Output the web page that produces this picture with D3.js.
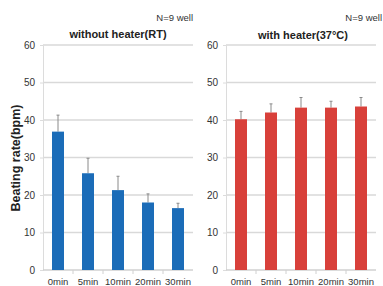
<!DOCTYPE html>
<html><head><meta charset="utf-8">
<script src="https://cdn.jsdelivr.net/npm/d3@7"></script>
<style>body{margin:0;background:#fff}svg{display:block;font-family:"Liberation Sans",Arial,sans-serif}</style>
</head><body><svg id="c" width="383" height="286"></svg>
<script>
const categories = ["0min","5min","10min","20min","30min"];
const yTicks = [0,10,20,30,40,50,60];
const rtValues = [36.9, 25.8, 21.3, 18.0, 16.5];
const rtErrors = [4.4, 4.0, 3.7, 2.3, 1.3];
const heatValues = [40.2, 42.0, 43.3, 43.3, 43.6];
const heatErrors = [2.1, 2.3, 2.7, 1.7, 2.4];
const titles = ["without heater(RT)", "with heater(37°C)"];
const note = "N=9 well";

const svg = d3.select("#c");
const y = d3.scaleLinear().domain([0,60]).range([270,45]);

// y-axis title
svg.append("text").attr("transform","translate(20,158) rotate(-90)")
  .attr("text-anchor","middle").attr("font-size",12.5).attr("font-weight","bold")
  .attr("fill","#222").text("Beating rate(bpm)");

const panels = [
  {x0:43, x1:193, vals:rtValues, errs:rtErrors, color:"#1b6cb8", title:titles[0], titleX:118, titleY:37.5, noteX:193, noteY:21},
  {x0:226, x1:376, vals:heatValues, errs:heatErrors, color:"#d8403a", title:titles[1], titleX:303, titleY:38.5, noteX:382, noteY:21}
];

panels.forEach(p => {
  const g = svg.append("g");
  const x = d3.scaleBand().domain(categories).range([p.x0, p.x1]).paddingInner(0.6).paddingOuter(0.3);
  const xb = d3.scaleBand().domain(categories).range([p.x0, p.x1]);
  // gridlines
  g.selectAll("line.grid").data(yTicks.filter(d=>d>0)).join("line")
    .attr("x1",p.x0).attr("x2",p.x1).attr("y1",d=>y(d)).attr("y2",d=>y(d))
    .attr("stroke","#d9d9d9").attr("stroke-width",1.3);
  // y axis
  const ya = d3.axisLeft(y).tickValues(yTicks).tickSize(3).tickPadding(5);
  const yg = g.append("g").attr("transform",`translate(${p.x0},0)`).call(ya);
  yg.select(".domain").attr("stroke","#dcdcdc");
  yg.selectAll(".tick line").attr("stroke","#dcdcdc");
  yg.selectAll(".tick text").attr("font-size",10).attr("fill","#333").attr("font-family","Liberation Sans, Arial, sans-serif");
  // x axis
  const xg = g.append("g").attr("transform",`translate(0,${y(0)})`);
  xg.append("line").attr("x1",p.x0).attr("x2",p.x1).attr("stroke","#d0d0d0").attr("stroke-width",1.3);
  xg.selectAll("line.t").data(categories.slice(1)).join("line")
    .attr("x1",d=>xb(d)).attr("x2",d=>xb(d)).attr("y1",0).attr("y2",4).attr("stroke","#d0d0d0");
  xg.selectAll("text").data(categories).join("text")
    .attr("x",d=>xb(d)+xb.bandwidth()/2).attr("y",15).attr("text-anchor","middle")
    .attr("font-size",9.5).attr("fill","#333").text(d=>d);
  // error bars
  g.selectAll("line.err").data(categories).join("line")
    .attr("x1",(d)=>x(d)+x.bandwidth()/2).attr("x2",d=>x(d)+x.bandwidth()/2)
    .attr("y1",(d,i)=>y(p.vals[i])).attr("y2",(d,i)=>y(p.vals[i]+p.errs[i]))
    .attr("stroke","#8a8a8a").attr("stroke-width",1);
  g.selectAll("line.cap").data(categories).join("line")
    .attr("x1",(d)=>x(d)+x.bandwidth()/2-1.5).attr("x2",d=>x(d)+x.bandwidth()/2+1.5)
    .attr("y1",(d,i)=>y(p.vals[i]+p.errs[i])).attr("y2",(d,i)=>y(p.vals[i]+p.errs[i]))
    .attr("stroke","#8a8a8a").attr("stroke-width",1);
  // bars
  g.selectAll("rect").data(categories).join("rect")
    .attr("x",d=>x(d)).attr("width",x.bandwidth())
    .attr("y",(d,i)=>y(p.vals[i])).attr("height",(d,i)=>y(0)-y(p.vals[i]))
    .attr("fill",p.color);
  // titles
  g.append("text").attr("x",p.titleX).attr("y",p.titleY).attr("text-anchor","middle")
    .attr("font-size",11).attr("font-weight","bold").attr("fill","#222").text(p.title);
  g.append("text").attr("x",p.noteX).attr("y",p.noteY).attr("text-anchor","end")
    .attr("font-size",9.5).attr("fill","#333").text(note);
});
</script></body></html>
